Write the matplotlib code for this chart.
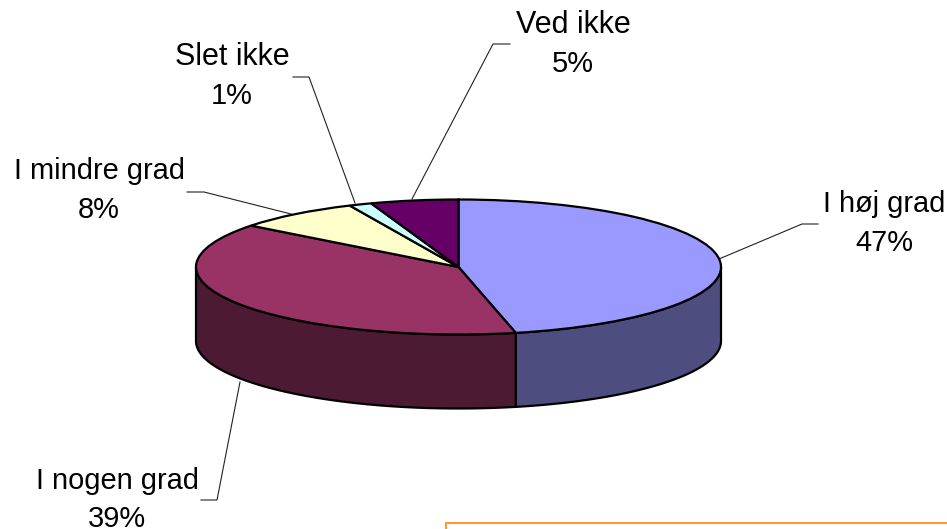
import numpy as np
import matplotlib
matplotlib.use("Agg")
import matplotlib.pyplot as plt
from matplotlib.patches import Polygon
from matplotlib.transforms import Affine2D

categories = ["I høj grad", "I nogen grad", "I mindre grad", "Slet ikke", "Ved ikke"]
shares = [46.5, 39.0, 7.7, 1.4, 5.4]
percent_labels = ["47%", "39%", "8%", "1%", "5%"]
top_colors = ["#9999FF", "#993366", "#FFFFCC", "#CCFFFF", "#660066"]
side_colors = ["#4D4D80", "#4D1A33", "#80806A", "#6A8080", "#330033"]
name_sizes = [20.9, 20.9, 20.9, 22.0, 22.0]

W, H = 947, 529
CX, CY, RX, RY, DEPTH = 458.5, 267.0, 262.5, 67.5, 74.0

plt.rcParams["font.family"] = ["Liberation Sans", "DejaVu Sans"]
fig = plt.figure(figsize=(W / 100, H / 100), dpi=100, facecolor="white")
ax = fig.add_axes([0, 0, 1, 1])

wedges, _ = ax.pie(shares, colors=top_colors, startangle=90, counterclock=False,
                   radius=1, wedgeprops=dict(edgecolor="black", linewidth=1.6, zorder=3))
ax.set_aspect("auto")
ax.set_xlim(-CX / RX, (W - CX) / RX)
ax.set_ylim((CY - H) / RY, CY / RY)
ax.axis("off")

# side walls of the slices that face the viewer
d = DEPTH / RY
for w, col in zip(wedges, side_colors):
    lo, hi = max(w.theta1, 180.0), min(w.theta2, 360.0)
    lo2, hi2 = w.theta1 + 360, w.theta2 + 360
    if hi <= lo:
        lo, hi = max(lo2, 180.0), min(hi2, 360.0)
    if hi <= lo:
        continue
    t = np.radians(np.linspace(lo, hi, 120))
    x, y = np.cos(t), np.sin(t)
    ring = np.r_[np.c_[x, y], np.c_[x, y - d][::-1]]
    ax.add_patch(Polygon(ring, closed=True, facecolor=col, edgecolor="black",
                         linewidth=1.6, joinstyle="round", zorder=2))

px = Affine2D().scale(1 / W, -1 / H).translate(0, 1) + fig.transFigure

# leader lines: label end, elbow, pie end (image pixels)
leaders = [
    ([818, 802, 719], [224, 224, 259]),
    ([201, 217, 240], [500, 500, 382]),
    ([187, 204, 291], [192, 192, 214]),
    ([293, 309, 355], [77, 77, 203]),
    ([510, 493, 412], [44, 44, 199]),
]
for xs, ys in leaders:
    ax.plot(xs, ys, color="#222222", lw=0.8, transform=px, zorder=1, clip_on=False,
            solid_joinstyle="miter")

label_pos = [(884, 212, 251), (117, 489, 527), (99, 179, 218), (232, 65, 104), (573, 33, 72)]
for name, pct, size, (x, y1, y2) in zip(categories, percent_labels, name_sizes, label_pos):
    ax.text(x, y1, name, transform=px, ha="center", va="baseline",
            fontsize=size, color="black", zorder=5)
    ax.text(x, y2, pct, transform=px, ha="center", va="baseline",
            fontsize=20.9, color="black", zorder=5)

# orange note box, cut off by the lower image edge
ax.plot([445.5, 445.5, 947], [529, 522.7, 522.7], transform=px, color="#FF9933", lw=1.5,
        clip_on=False, zorder=4, solid_joinstyle="miter")

fig.savefig("out.png", dpi=100, facecolor="white")
